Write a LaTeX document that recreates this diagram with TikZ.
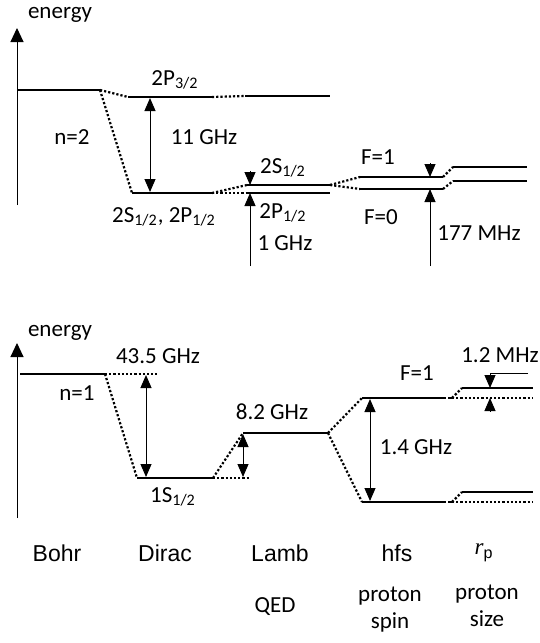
\documentclass[tikz,border=0pt]{standalone}
\usepackage{fontspec}
\setmainfont{Carlito}
\newfontfamily\arialfont{Liberation Sans}
\newfontfamily\timesfont{Liberation Serif}
\usetikzlibrary{arrows.meta}

\tikzset{
  level/.style={line width=1pt},
  thinlevel/.style={line width=0.6pt},
  link/.style={line width=1.1pt, dash pattern=on 1.1pt off 1pt},
  gap/.style={line width=0.5pt, {Triangle[length=6.5pt,width=5.5pt]}-{Triangle[length=6.5pt,width=5.5pt]}},
  tip/.style={line width=0.5pt, -{Triangle[length=6.5pt,width=5.5pt]}},
  axis/.style={line width=0.5pt, -{Triangle[length=7pt,width=6.5pt]}},
  lbl/.style={font=\fontsize{11.5}{13.5}\selectfont, inner sep=0pt},
  stage/.style={font=\arialfont\fontsize{11.5}{14}\selectfont, inner sep=0pt, align=center}
}

\begin{document}
\begin{tikzpicture}[x=0.5pt, y=-0.5pt]
  \useasboundingbox (0,0) rectangle (540,643);

  % ---- n=2 ----
  \coordinate (axTa) at (17,205);  \coordinate (axTb) at (17,28);
  \coordinate (n2a) at (17,90);    \coordinate (n2b) at (100,90);
  \coordinate (p32a) at (128,97);  \coordinate (p32b) at (212,97);
  \coordinate (p32c) at (245,96);  \coordinate (p32d) at (330,96);
  \coordinate (s12a) at (132,193); \coordinate (s12b) at (212,193);
  \coordinate (lsa) at (247,185);  \coordinate (lsb) at (330,185);
  \coordinate (lpa) at (247,193);  \coordinate (lpb) at (330,193);
  \coordinate (f1a) at (360,177);  \coordinate (f1b) at (443,177);
  \coordinate (f0a) at (360,189);  \coordinate (f0b) at (443,189);
  \coordinate (r1a) at (453,167);  \coordinate (r1b) at (527,167);
  \coordinate (r0a) at (453,181);  \coordinate (r0b) at (527,181);

  \draw[axis] (axTa) -- (axTb);
  \draw[thinlevel] (n2a) -- (n2b);
  \draw[level] (p32a) -- (p32b);
  \draw[level] (p32c) -- (p32d);
  \draw[level] (s12a) -- (s12b);
  \draw[level] (lsa) -- (lsb);
  \draw[level] (lpa) -- (lpb);
  \draw[level] (f1a) -- (f1b);
  \draw[level] (f0a) -- (f0b);
  \draw[level] (r1a) -- (r1b);
  \draw[level] (r0a) -- (r0b);

  \draw[link] (n2b) -- (p32a);
  \draw[link] (n2b) -- (s12a);
  \draw[link] (p32b) -- (p32c);
  \draw[link] (s12b) -- (lsa);
  \draw[link] (s12b) -- (lpa);
  \draw[link] (lsb) -- (f1a);
  \draw[link] (lsb) -- (f0a);
  \draw[link] (f1b) -- (r1a);
  \draw[link] (f0b) -- (r0a);

  \coordinate (g11a) at (150,98);  \coordinate (g11b) at (150,192);
  \draw[gap] (g11a) -- (g11b);
  \coordinate (lmTop) at (250,171); \coordinate (lmTopEnd) at (250,185);
  \coordinate (lmBot) at (250,266); \coordinate (lmBotEnd) at (250,193);
  \draw[tip] (lmTop) -- (lmTopEnd);
  \draw[tip] (lmBot) -- (lmBotEnd);
  \coordinate (hfTop) at (430,163); \coordinate (hfTopEnd) at (430,177);
  \coordinate (hfBot) at (430,266); \coordinate (hfBotEnd) at (430,189);
  \draw[tip] (hfTop) -- (hfTopEnd);
  \draw[tip] (hfBot) -- (hfBotEnd);

  \node[lbl] (enT) at (60,15) {energy};
  \node[lbl] (p32l) at (175,80) {2P\textsubscript{3/2}};
  \node[lbl] (n2l) at (72,137) {n=2};
  \node[lbl] (g11l) at (204,137) {11 GHz};
  \node[lbl] (s12l) at (164,217) {2S\textsubscript{1/2}, 2P\textsubscript{1/2}};
  \node[lbl] (lsl) at (283,168) {2S\textsubscript{1/2}};
  \node[lbl] (lpl) at (283,213) {2P\textsubscript{1/2}};
  \node[lbl] (g1l) at (285,243) {1 GHz};
  \node[lbl] (f1l) at (378,157) {F=1};
  \node[lbl] (f0l) at (381,217) {F=0};
  \node[lbl] (g177l) at (479,233) {177 MHz};

  % ---- n=1 ----
  \coordinate (axBa) at (17,518);  \coordinate (axBb) at (17,343);
  \coordinate (n1a) at (20,374);   \coordinate (n1b) at (105,374);
  \coordinate (n1c) at (157,374);
  \coordinate (s1a) at (137,478);  \coordinate (s1b) at (213,478);
  \coordinate (s1c) at (250,478);
  \coordinate (lmA) at (243,433);  \coordinate (lmB) at (328,433);
  \coordinate (h1a) at (362,398);  \coordinate (h1b) at (440,398);
  \coordinate (h1c) at (452,398);  \coordinate (h1d) at (533,398);
  \coordinate (h0a) at (362,502);  \coordinate (h0b) at (440,502);
  \coordinate (h0c) at (452,502);  \coordinate (h0d) at (533,502);
  \coordinate (rp1a) at (462,388); \coordinate (rp1b) at (533,388);
  \coordinate (rp0a) at (462,492); \coordinate (rp0b) at (533,492);

  \draw[axis] (axBa) -- (axBb);
  \draw[thinlevel] (n1a) -- (n1b);
  \draw[level] (s1a) -- (s1b);
  \draw[level] (lmA) -- (lmB);
  \draw[level] (h1a) -- (h1b);
  \draw[level] (h0a) -- (h0b);
  \draw[level] (rp1a) -- (rp1b);
  \draw[level] (rp0a) -- (rp0b);
  \draw[line width=1pt, dash pattern=on 3pt off 1pt] (h1b) -- (h1c);
  \draw[line width=1pt, dash pattern=on 3pt off 1pt] (h0b) -- (h0c);

  \draw[link] (n1b) -- (n1c);
  \draw[link] (n1b) -- (s1a);
  \draw[link] (s1b) -- (s1c);
  \draw[link] (s1b) -- (lmA);
  \draw[link] (lmB) -- (h1a);
  \draw[link] (lmB) -- (h0a);
  \draw[link] (h1c) -- (rp1a);
  \draw[link] (h1c) -- (h1d);
  \draw[link] (h0c) -- (rp0a);
  \draw[link] (h0c) -- (h0d);

  \coordinate (g43a) at (146,375); \coordinate (g43b) at (146,477);
  \draw[gap] (g43a) -- (g43b);
  \coordinate (g82a) at (243,434); \coordinate (g82b) at (243,477);
  \draw[gap] (g82a) -- (g82b);
  \coordinate (g14a) at (370,399); \coordinate (g14b) at (370,501);
  \draw[gap] (g14a) -- (g14b);
  \coordinate (g12s) at (528,373); \coordinate (g12k) at (490,373);
  \coordinate (g12e) at (490,388);
  \draw[tip] (g12s) -- (g12k) -- (g12e);
  \coordinate (g12u) at (490,411); \coordinate (g12f) at (490,398);
  \draw[tip] (g12u) -- (g12f);

  \node[lbl] (enB) at (60,333) {energy};
  \node[lbl] (g43l) at (158,356) {43.5 GHz};
  \node[lbl] (n1l) at (77,393) {n=1};
  \node[lbl] (s1l) at (173,497) {1S\textsubscript{1/2}};
  \node[lbl] (g82l) at (272,412) {8.2 GHz};
  \node[lbl] (hf1l) at (417,373) {F=1};
  \node[lbl] (g14l) at (416,447) {1.4 GHz};
  \node[lbl] (g12l) at (500,355) {1.2 MHz};

  % ---- stages ----
  \node[stage] (bohr) at (57,553) {Bohr};
  \node[stage] (dirac) at (165,553) {Dirac};
  \node[stage] (lamb) at (280,553) {Lamb};
  \node[stage] (hfs) at (397,553) {hfs};
  \node[stage] (rp) at (484,553) {{\timesfont\itshape r}\textsubscript{p}};
  \node[lbl] (qed) at (275,607) {QED};
  \node[lbl, align=center] (spin) at (390,610) {proton\\spin};
  \node[lbl, align=center] (size) at (487,606) {proton\\size};
\end{tikzpicture}
\end{document}
